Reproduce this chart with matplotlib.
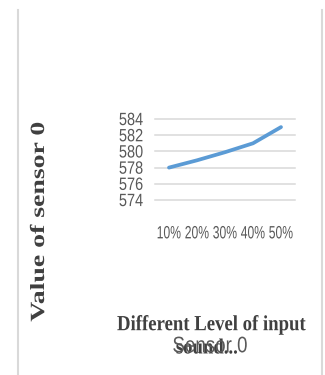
import matplotlib.pyplot as plt
import matplotlib.patheffects as pe
from matplotlib.lines import Line2D
from matplotlib.transforms import Affine2D

levels = ['10%', '20%', '30%', '40%', '50%']
sensor0 = [578.0, 578.9, 579.9, 581.0, 583.0]
yticks = [574, 576, 578, 580, 582, 584]


class Stretch(pe.AbstractPathEffect):
    # scale the glyphs around an anchor of their own box (the source has tall narrow text)
    def __init__(self, sx, sy, ax=0.5, ay=0.5):
        super().__init__()
        self.sx, self.sy, self.ax, self.ay = sx, sy, ax, ay

    def draw_path(self, renderer, gc, tpath, affine, rgbFace=None):
        b = tpath.get_extents()
        cx = b.x0 + self.ax * b.width
        cy = b.y0 + self.ay * b.height
        t = Affine2D().translate(-cx, -cy).scale(self.sx, self.sy).translate(cx, cy)
        renderer.draw_path(gc, tpath, t + affine, rgbFace)


W, H = 325, 375
fig = plt.figure(figsize=(3.25, 3.75), dpi=100)
fig.patch.set_facecolor('white')

# outer chart frame
fig.add_artist(Line2D([18 / W, 18 / W], [0, 1 - 10 / H], color='#d9d9d9', lw=1.5))
fig.add_artist(Line2D([322 / W, 322 / W], [0, 1 - 10 / H], color='#d9d9d9', lw=1.5))

# plot area: x 155..295 px, y 119 (584) .. 200 (574)
ax = fig.add_axes([155 / W, 1 - 200 / H, 140 / W, 81 / H])
x = list(range(len(levels)))
ax.plot(x, sensor0, color='#5b9bd5', lw=2.7, solid_capstyle='round')
ax.set_xlim(-0.5, 4.5)
ax.set_ylim(574, 584)
ax.set_yticks(yticks)
ax.set_xticks(x)
ax.set_xticklabels(levels)
ax.grid(axis='y', color='#d9d9d9', lw=1.1)
ax.set_axisbelow(True)
for g in ax.yaxis.get_gridlines():
    g.set_clip_on(False)
for s in ax.spines.values():
    s.set_visible(False)
ax.tick_params(length=0, labelsize=9.5, labelcolor='#595959')
ax.tick_params(axis='x', pad=20)
ax.tick_params(axis='y', pad=8.5)
for lab in ax.get_xticklabels():
    lab.set_family('Liberation Sans')
    lab.set_path_effects([Stretch(0.92, 1.35)])
for lab in ax.get_yticklabels():
    lab.set_family('Liberation Sans')
    lab.set_path_effects([Stretch(1.1, 1.35, ax=1.0)])

serif = dict(family='Liberation Serif', weight='bold', color='#404040')
fig.text(39 / W, 1 - 222 / H, 'Value of sensor 0', rotation=90, ha='center', va='center',
         fontsize=14.5, path_effects=[Stretch(1.38, 1.0)], **serif)
fig.text(211.5 / W, 1 - 325 / H, 'Different Level of input', ha='center', va='center',
         fontsize=13.5, path_effects=[Stretch(1.0, 1.15)], **serif)
fig.text(207 / W, 1 - 348 / H, 'sound...', ha='center', va='center',
         fontsize=13.5, path_effects=[Stretch(1.0, 1.15)], **serif)
fig.text(210 / W, 1 - 346.5 / H, 'Sensor 0', ha='center', va='center',
         family='Liberation Sans', fontsize=13.5, color='#595959',
         path_effects=[Stretch(1.0, 1.2)])

fig.savefig('out.png', dpi=100)
